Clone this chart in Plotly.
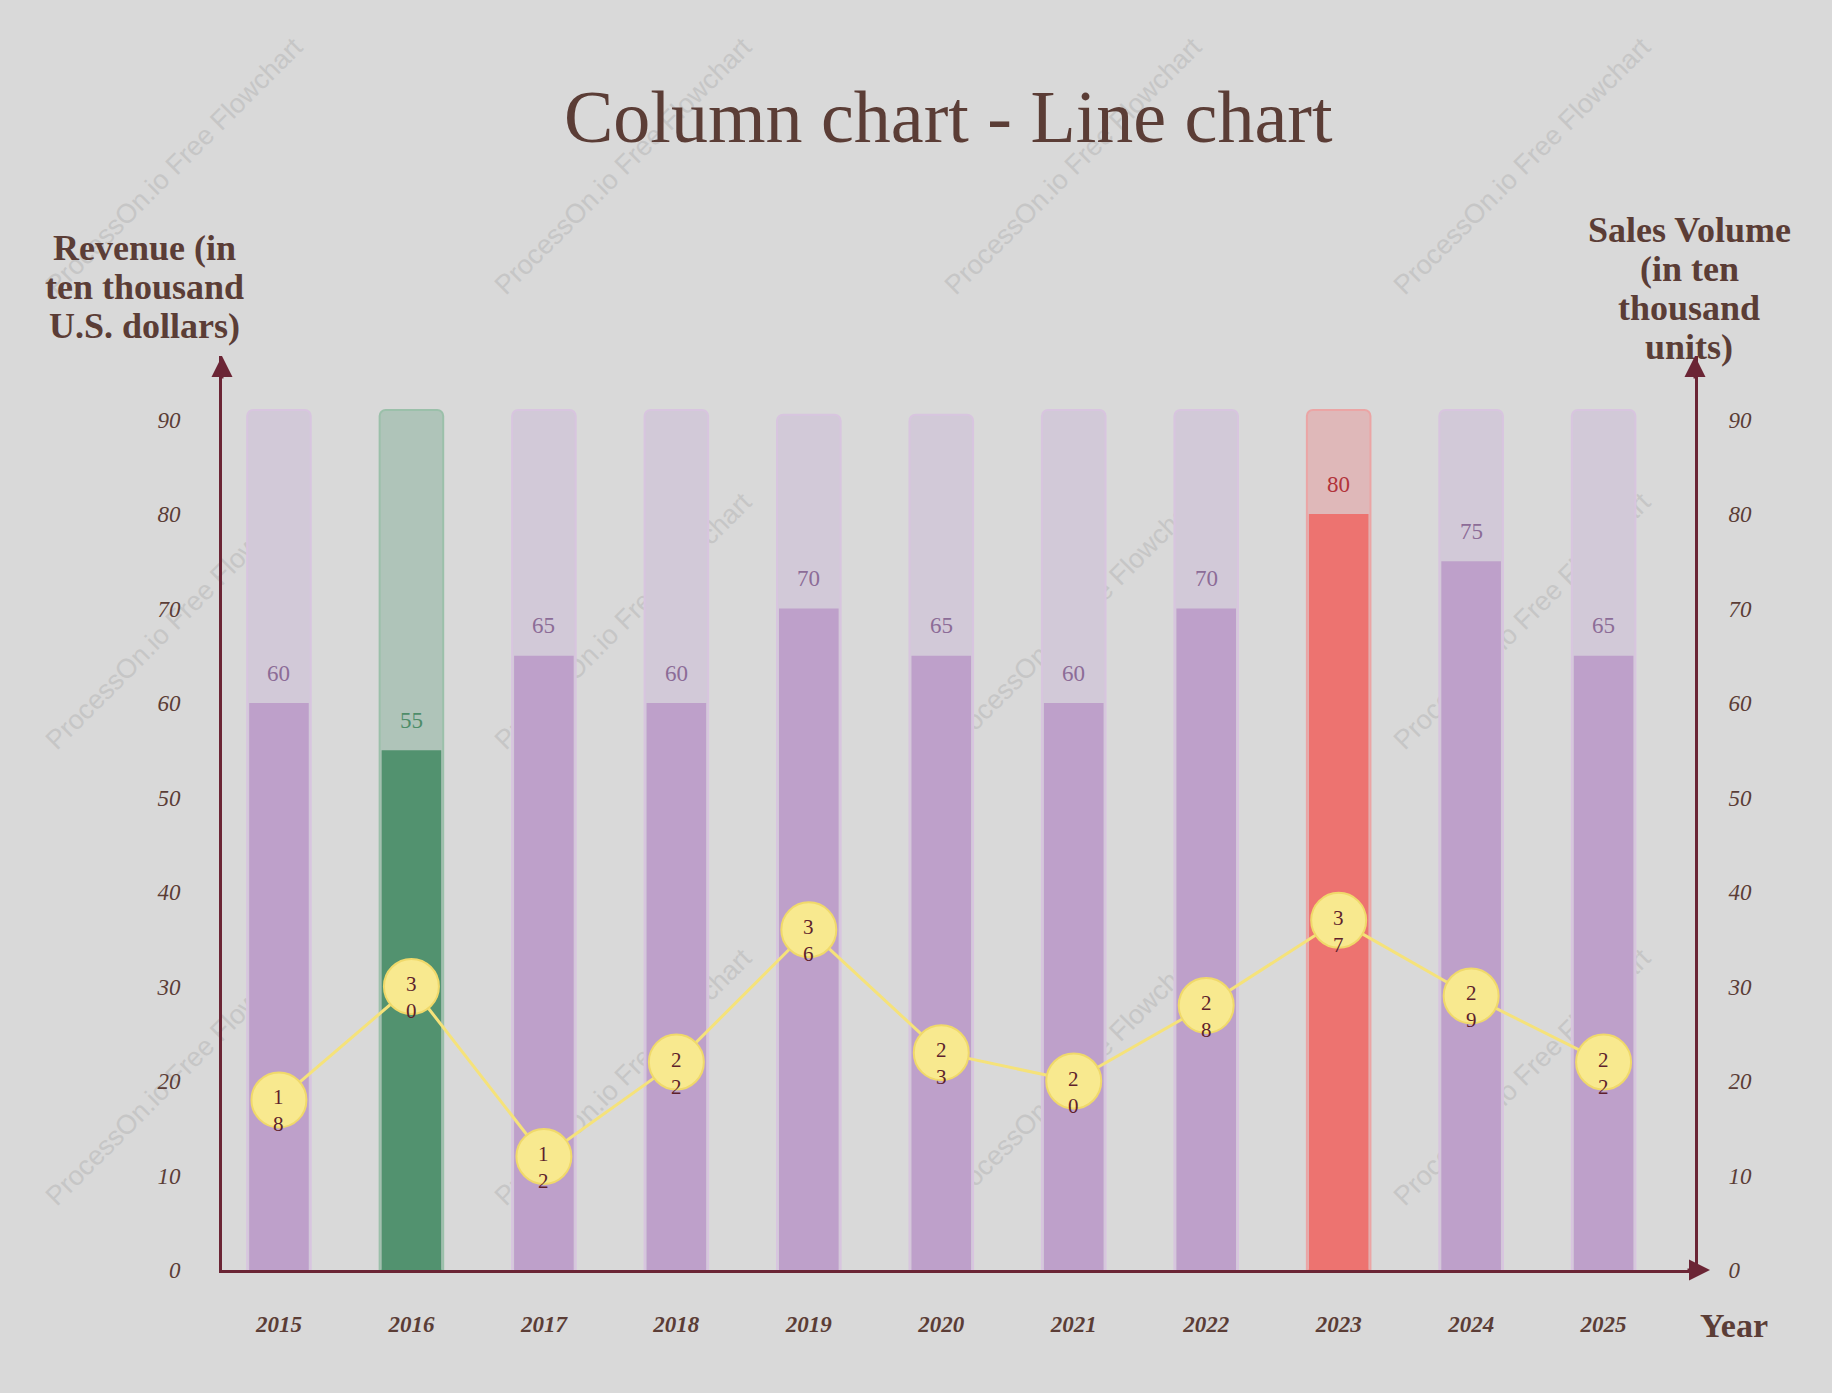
import plotly.graph_objects as go

# ---------------- data ----------------
years = ["2015", "2016", "2017", "2018", "2019", "2020", "2021", "2022", "2023", "2024", "2025"]
revenue = [60, 55, 65, 60, 70, 65, 60, 70, 80, 75, 65]
revenue_track = [91, 91, 91, 91, 90.5, 90.5, 91, 91, 91, 91, 91]
sales_volume = [18, 30, 12, 22, 36, 23, 20, 28, 37, 29, 22]
y_ticks = [0, 10, 20, 30, 40, 50, 60, 70, 80, 90]
highlight = {"2016": "green", "2023": "red"}

title_text = "Column chart - Line chart"
left_title = ["Revenue (in", "ten thousand", "U.S. dollars)"]
right_title = ["Sales Volume", "(in ten", "thousand", "units)"]
x_title = "Year"
watermark = "ProcessOn.io Free Flowchart"

# ---------------- layout geometry ----------------
W, H = 1832, 1393
L, R, T, B = 222, 1695, 356, 1270   # plot-area edges in pixels
Y_MAX = (B - T) / 9.45
X_RANGE = [-0.43, 10.69]


def px(x):
    return (x - L) / (R - L)


def py(y):
    return (B - y) / (B - T)


SERIF = "Liberation Serif, Times New Roman, serif"
SANS = "Liberation Sans, Arial, sans-serif"
TEXT = "#5B3D36"
AXIS = "#6B2535"
BG = "#D9D9D9"

PALETTE = {
    "purple": dict(fg="#BEA0CA", bg="#D2C9D8", edge="#D8C5DF", label="#8C6C97"),
    "green": dict(fg="#52926F", bg="#AFC4B9", edge="#9BC0AA", label="#4E8D69"),
    "red": dict(fg="#ED7370", bg="#DFB8B9", edge="#EBA5A5", label="#B2333A"),
}
keys = [highlight.get(y, "purple") for y in years]

fig = go.Figure()

# background "track" bars
fig.add_trace(go.Bar(
    x=years, y=revenue_track, width=0.48,
    marker=dict(color=[PALETTE[k]["bg"] for k in keys],
                line=dict(color=[PALETTE[k]["edge"] for k in keys], width=2),
                cornerradius=6),
    hoverinfo="skip", showlegend=False,
))
# revenue bars
fig.add_trace(go.Bar(
    x=years, y=revenue, width=0.45,
    marker=dict(color=[PALETTE[k]["fg"] for k in keys], line=dict(width=0),
                cornerradius=6),
    name="Revenue", showlegend=False,
))
# sales volume line
fig.add_trace(go.Scatter(
    x=years, y=sales_volume, yaxis="y2", mode="lines+markers",
    line=dict(color="#F5E27A", width=3),
    marker=dict(size=55, color="#F8E98F", line=dict(color="#F0D96A", width=2)),
    name="Sales Volume", showlegend=False,
))

annotations = []
# bar value labels (category index used as x position)
for i, (v, k) in enumerate(zip(revenue, keys)):
    annotations.append(dict(
        x=i, y=v, xref="x", yref="y", text=str(v), showarrow=False,
        yanchor="middle", yshift=30,
        font=dict(family=SERIF, size=23, color=PALETTE[k]["label"]),
    ))
# line value labels (digits stacked)
for i, v in enumerate(sales_volume):
    annotations.append(dict(
        x=i, y=v, xref="x", yref="y2", text="<br>".join(str(v)), showarrow=False,
        yanchor="middle", yshift=-11,
        font=dict(family=SERIF, size=21, color="#5E1F2C"),
    ))

# title
annotations.append(dict(
    x=px(948), y=py(117), xref="paper", yref="paper", text=title_text,
    showarrow=False, xanchor="center", yanchor="middle",
    font=dict(family=SERIF, size=74, color=TEXT),
))
# axis titles (line by line for tight spacing)
for i, line in enumerate(left_title):
    annotations.append(dict(
        x=px(144), y=py(248 + 39 * i), xref="paper", yref="paper",
        text="<b>%s</b>" % line, showarrow=False, xanchor="center", yanchor="middle",
        font=dict(family=SERIF, size=36, color=TEXT),
    ))
for i, line in enumerate(right_title):
    annotations.append(dict(
        x=px(1689), y=py(230 + 39 * i), xref="paper", yref="paper",
        text="<b>%s</b>" % line, showarrow=False, xanchor="center", yanchor="middle",
        font=dict(family=SERIF, size=36, color=TEXT),
    ))
annotations.append(dict(
    x=px(1734), y=py(1325), xref="paper", yref="paper",
    text="<b>%s</b>" % x_title, showarrow=False, xanchor="center", yanchor="middle",
    font=dict(family=SERIF, size=34, color=TEXT),
))

# arrow heads on the axes
arrow = dict(text="", showarrow=True, arrowhead=2, arrowsize=1.4, arrowwidth=3,
             arrowcolor=AXIS, xref="paper", yref="paper", axref="pixel", ayref="pixel",
             standoff=0)
annotations.append(dict(arrow, x=0, y=1, ax=0, ay=24))
annotations.append(dict(arrow, x=1, y=1, ax=0, ay=24))
annotations.append(dict(arrow, x=px(1710), y=0, ax=-24, ay=0))

# watermarks (below the traces)
shapes = []
for cx in (172, 621, 1071, 1520):
    for cy in (164, 619, 1075):
        shapes.append(dict(
            type="rect", xref="paper", yref="paper", layer="below",
            x0=px(cx - 5), x1=px(cx + 5), y0=py(cy + 5), y1=py(cy - 5),
            line=dict(width=0), fillcolor="rgba(0,0,0,0)",
            label=dict(text=watermark, textangle=-45, textposition="middle center",
                       font=dict(family=SANS, size=27, color="#C6C6C6")),
        ))

tickfont_y = dict(family=SERIF, size=23, color=TEXT, style="italic")
fig.update_layout(
    width=W, height=H,
    margin=dict(l=L, r=W - R, t=T, b=H - B, pad=0),
    paper_bgcolor=BG, plot_bgcolor=BG,
    barmode="overlay",
    showlegend=False,
    xaxis=dict(
        type="category", range=X_RANGE, showgrid=False, zeroline=False,
        showline=True, linecolor=AXIS, linewidth=3,
        ticks="outside", ticklen=31, tickcolor="rgba(0,0,0,0)",
        tickfont=dict(family=SERIF, size=23, color=TEXT, style="italic", weight="bold"),
    ),
    yaxis=dict(
        range=[0, Y_MAX], tickvals=y_ticks, showgrid=False, zeroline=False,
        showline=True, linecolor=AXIS, linewidth=3,
        ticks="outside", ticklen=34, tickcolor="rgba(0,0,0,0)",
        tickfont=tickfont_y,
    ),
    yaxis2=dict(
        range=[0, Y_MAX], tickvals=y_ticks, overlaying="y", side="right", anchor="x",
        showgrid=False, zeroline=False,
        showline=True, linecolor=AXIS, linewidth=3,
        ticks="outside", ticklen=26, tickcolor="rgba(0,0,0,0)",
        tickfont=tickfont_y,
    ),
    annotations=annotations,
    shapes=shapes,
)

fig.write_html("out.html")
